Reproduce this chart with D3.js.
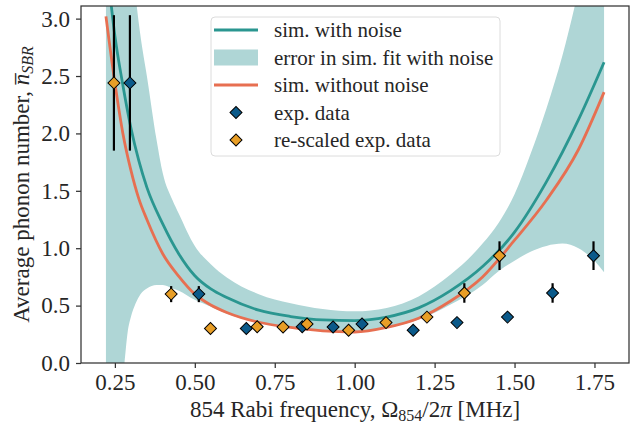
<!DOCTYPE html>
<html>
<head>
<meta charset="utf-8">
<script src="https://cdn.jsdelivr.net/npm/d3@7"></script>
<style>
  html, body { margin: 0; padding: 0; background: #fff; }
  svg { display: block; font-family: "Liberation Serif", "Times New Roman", serif; }
</style>
</head>
<body>
<svg id="chart" width="636" height="423"></svg>
<script>
// ---- data ----
const simX = [0.222, 0.25, 0.275, 0.3, 0.325, 0.35, 0.4, 0.45, 0.5, 0.55, 0.6, 0.7, 0.8, 0.9, 1.0, 1.1, 1.2, 1.3, 1.4, 1.5, 1.6, 1.7, 1.78];
const simWithNoise = [3.55, 2.85, 2.42, 2.05, 1.76, 1.53, 1.21, 0.95, 0.76, 0.645, 0.57, 0.46, 0.405, 0.375, 0.37, 0.40, 0.48, 0.63, 0.84, 1.14, 1.58, 2.12, 2.62];
const simWithoutNoise = [3.02, 2.44, 2.0, 1.68, 1.43, 1.25, 0.95, 0.755, 0.60, 0.505, 0.44, 0.355, 0.31, 0.28, 0.27, 0.31, 0.39, 0.54, 0.75, 1.07, 1.42, 1.86, 2.36];

const bandX = [0.222, 0.25, 0.27, 0.28, 0.29, 0.3, 0.315, 0.33, 0.35, 0.38, 0.4, 0.43, 0.45, 0.5, 0.55, 0.6, 0.7, 0.8, 0.9, 1.0, 1.1, 1.2, 1.3, 1.4, 1.45, 1.5, 1.55, 1.6, 1.65, 1.7, 1.75, 1.78];
const bandUpper = [8.0, 6.0, 5.1, 4.6, 4.1, 3.7, 3.2, 2.85, 2.5, 1.95, 1.65, 1.42, 1.30, 1.02, 0.86, 0.745, 0.60, 0.52, 0.47, 0.45, 0.48, 0.58, 0.77, 1.04, 1.22, 1.47, 1.82, 2.22, 2.68, 3.25, 3.9, 4.3];
const bandLower = [-1.0, -0.8, -0.3, 0.0, 0.27, 0.40, 0.52, 0.60, 0.65, 0.68, 0.68, 0.65, 0.63, 0.55, 0.49, 0.43, 0.355, 0.31, 0.285, 0.275, 0.305, 0.38, 0.51, 0.68, 0.80, 0.89, 0.97, 1.02, 1.04, 1.0, 0.89, 0.79];

const expX = [0.297, 0.5125, 0.661, 0.836, 0.9325, 1.023, 1.183, 1.32, 1.478, 1.619, 1.747];
const rescaledX = [0.247, 0.426, 0.549, 0.695, 0.776, 0.851, 0.981, 1.098, 1.226, 1.343, 1.453];
const expY = [2.44, 0.60, 0.30, 0.316, 0.313, 0.34, 0.285, 0.352, 0.40, 0.61, 0.935];
const expErr = [0.59, 0.07, 0.03, 0.03, 0.03, 0.03, 0.03, 0.03, 0.03, 0.085, 0.125];

const xTicks = [0.25, 0.50, 0.75, 1.00, 1.25, 1.50, 1.75];
const yTicks = [0.0, 0.5, 1.0, 1.5, 2.0, 2.5, 3.0];
const legendLabels = ["sim. with noise", "error in sim. fit with noise", "sim. without noise", "exp. data", "re-scaled exp. data"];

// ---- styles ----
const C_TEAL = "#2a9690";
const C_BAND = "#afd6d6";
const C_CORAL = "#e76f51";
const C_BLUE = "#0b5a8a";
const C_ORANGE = "#e89e26";
const C_TEXT = "#262626";

const svg = d3.select("#chart");
const M = { left: 81, right: 629, top: 6, bottom: 363 };

const x = d3.scaleLinear().domain([0.144, 1.858]).range([M.left, M.right]);
const y = d3.scaleLinear().domain([0, 3.11]).range([M.bottom, M.top]);

svg.append("defs").append("clipPath").attr("id", "clip")
  .append("rect").attr("x", M.left).attr("y", M.top)
  .attr("width", M.right - M.left).attr("height", M.bottom - M.top);

const plot = svg.append("g").attr("clip-path", "url(#clip)");

// band
const bandData = bandX.map((d, i) => ({ x: d, lo: bandLower[i], hi: bandUpper[i] }));
plot.append("path")
  .datum(bandData)
  .attr("fill", C_BAND)
  .attr("d", d3.area().curve(d3.curveMonotoneX)
    .x(d => x(d.x)).y0(d => y(d.lo)).y1(d => y(d.hi)));

// lines
const line = d3.line().curve(d3.curveMonotoneX).x(d => x(d[0])).y(d => y(d[1]));
plot.append("path")
  .datum(simX.map((d, i) => [d, simWithNoise[i]]))
  .attr("fill", "none").attr("stroke", C_TEAL).attr("stroke-width", 2.8)
  .attr("d", line);
plot.append("path")
  .datum(simX.map((d, i) => [d, simWithoutNoise[i]]))
  .attr("fill", "none").attr("stroke", C_CORAL).attr("stroke-width", 2.8)
  .attr("d", line);

// error bars + markers
const marker = d3.symbol().type(d3.symbolSquare).size(72)();
function drawSeries(xs, color) {
  const g = plot.append("g");
  xs.forEach((xv, i) => {
    g.append("line")
      .attr("x1", x(xv)).attr("x2", x(xv))
      .attr("y1", y(expY[i] - expErr[i])).attr("y2", y(expY[i] + expErr[i]))
      .attr("stroke", "#000").attr("stroke-width", 2.2);
  });
  xs.forEach((xv, i) => {
    g.append("path")
      .attr("d", marker)
      .attr("transform", `translate(${x(xv)},${y(expY[i])}) rotate(45)`)
      .attr("fill", color).attr("stroke", "#000").attr("stroke-width", 1);
  });
}
drawSeries(expX, C_BLUE);
drawSeries(rescaledX, C_ORANGE);

// axes frame
svg.append("rect")
  .attr("x", M.left).attr("y", M.top)
  .attr("width", M.right - M.left).attr("height", M.bottom - M.top)
  .attr("fill", "none").attr("stroke", "#333").attr("stroke-width", 1.25);

// x axis
const xAxis = svg.append("g").attr("transform", `translate(0,${M.bottom})`)
  .call(d3.axisBottom(x).tickValues(xTicks).tickFormat(d3.format(".2f")).tickSizeOuter(0).tickSize(5).tickPadding(6));
xAxis.select(".domain").remove();
xAxis.selectAll("line").attr("stroke", "#333").attr("stroke-width", 1.25);
xAxis.selectAll("text").attr("fill", C_TEXT).style("font-size", "23px").style("font-family", "Liberation Serif");

// y axis
const yAxis = svg.append("g").attr("transform", `translate(${M.left},0)`)
  .call(d3.axisLeft(y).tickValues(yTicks).tickFormat(d3.format(".1f")).tickSizeOuter(0).tickSize(5).tickPadding(6));
yAxis.select(".domain").remove();
yAxis.selectAll("line").attr("stroke", "#333").attr("stroke-width", 1.25);
yAxis.selectAll("text").attr("fill", C_TEXT).style("font-size", "23px").style("font-family", "Liberation Serif");

// x label
const xl = svg.append("text")
  .attr("x", (M.left + M.right) / 2).attr("y", 417)
  .attr("text-anchor", "middle").attr("fill", C_TEXT).style("font-size", "23px");
xl.append("tspan").text("854 Rabi frequency, Ω");
xl.append("tspan").attr("baseline-shift", "-22%").style("font-size", "16px").text("854");
xl.append("tspan").text("/2");
xl.append("tspan").style("font-style", "italic").text("π");
xl.append("tspan").text(" [MHz]");

// y label
const yl = svg.append("text")
  .attr("transform", `translate(29,${(M.top + M.bottom) / 2}) rotate(-90)`)
  .attr("text-anchor", "middle").attr("fill", C_TEXT).style("font-size", "23px");
yl.append("tspan").text("Average phonon number, ");
yl.append("tspan").style("font-style", "italic").text("n\u0305");
yl.append("tspan").attr("baseline-shift", "-22%").style("font-size", "16px").style("font-style", "italic").text("SBR");

// legend
const lg = svg.append("g");
lg.append("rect").attr("x", 211).attr("y", 17).attr("width", 289).attr("height", 139)
  .attr("rx", 4).attr("fill", "#fff").attr("fill-opacity", 0.85)
  .attr("stroke", "#dcdcdc").attr("stroke-width", 1);
const rowY = i => 30 + i * 27.5;
lg.append("line").attr("x1", 214).attr("x2", 258).attr("y1", rowY(0)).attr("y2", rowY(0))
  .attr("stroke", C_TEAL).attr("stroke-width", 2.8);
lg.append("rect").attr("x", 214).attr("y", rowY(1) - 8).attr("width", 44).attr("height", 16)
  .attr("fill", C_BAND);
lg.append("line").attr("x1", 214).attr("x2", 258).attr("y1", rowY(2)).attr("y2", rowY(2))
  .attr("stroke", C_CORAL).attr("stroke-width", 2.8);
[C_BLUE, C_ORANGE].forEach((c, k) => {
  lg.append("path")
    .attr("d", marker)
    .attr("transform", `translate(236,${rowY(3 + k)}) rotate(45)`)
    .attr("fill", c).attr("stroke", "#000").attr("stroke-width", 1);
});
legendLabels.forEach((t, i) => {
  lg.append("text").attr("x", 274).attr("y", rowY(i) + 7)
    .attr("fill", C_TEXT).style("font-size", "21px").text(t);
});
</script>
</body>
</html>
